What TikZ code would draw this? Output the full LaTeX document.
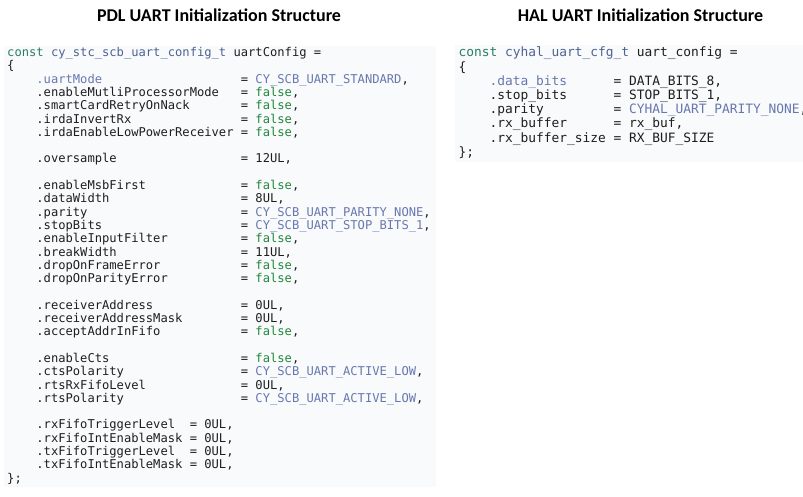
\documentclass[tikz,border=0pt]{standalone}
\usepackage{fontspec}
\usepackage{xcolor}
\usepackage{array}
\setsansfont{Carlito}
\newfontfamily\codefont{DejaVu Sans Mono}
\definecolor{panelbg}{HTML}{F8FAFC}
\definecolor{kwcol}{HTML}{2A7F62}
\definecolor{tycol}{HTML}{4E6394}
\definecolor{encol}{HTML}{6878AE}
\definecolor{facol}{HTML}{22883C}
\definecolor{codetext}{HTML}{1E1E1E}
\newcommand\kw[1]{\textcolor{kwcol}{#1}}
\newcommand\ty[1]{\textcolor{tycol}{#1}}
\newcommand\en[1]{\textcolor{encol}{#1}}
\newcommand\fa{\textcolor{facol}{false}}
\newcommand\ind{\hspace{2.408em}}
\newcommand\gap{\hspace{0.602em}}
\tikzset{
	heading/.style={font=\sffamily\bfseries\fontsize{18}{20}\selectfont, anchor=base, inner sep=0pt},
	codebox/.style={fill=panelbg, anchor=north west, align=left, text=codetext,
		execute at begin node={\spaceskip=0pt\xspaceskip=0pt\noindent}}
}

\begin{document}
\begin{tikzpicture}[x=1pt,y=-1pt]
\useasboundingbox (0,0) rectangle (803,497);

\node[heading] (pdltitle) at (219,21.7) {PDL UART Initialization Structure};
\node[heading] (haltitle) at (640.5,21.7) {HAL UART Initialization Structure};

\node[codebox, text width=426pt, inner xsep=3pt, inner ysep=1pt,
	font=\codefont\fontsize{12.13}{13.3}\selectfont] (pdlcode) at (4,46) {%
\begin{tabular}{@{\ind}l@{\gap}l@{}}
\multicolumn{2}{@{}l@{}}{\kw{const} \ty{cy\_stc\_scb\_uart\_config\_t} uartConfig =}\\
\multicolumn{2}{@{}l@{}}{\{}\\
\en{.uartMode} & = \en{CY\_SCB\_UART\_STANDARD},\\
.enableMutliProcessorMode & = \fa,\\
.smartCardRetryOnNack & = \fa,\\
.irdaInvertRx & = \fa,\\
.irdaEnableLowPowerReceiver & = \fa,\\
 & \\
.oversample & = 12UL,\\
 & \\
.enableMsbFirst & = \fa,\\
.dataWidth & = 8UL,\\
.parity & = \en{CY\_SCB\_UART\_PARITY\_NONE},\\
.stopBits & = \en{CY\_SCB\_UART\_STOP\_BITS\_1},\\
.enableInputFilter & = \fa,\\
.breakWidth & = 11UL,\\
.dropOnFrameError & = \fa,\\
.dropOnParityError & = \fa,\\
 & \\
.receiverAddress & = 0UL,\\
.receiverAddressMask & = 0UL,\\
.acceptAddrInFifo & = \fa,\\
 & \\
.enableCts & = \fa,\\
.ctsPolarity & = \en{CY\_SCB\_UART\_ACTIVE\_LOW},\\
.rtsRxFifoLevel & = 0UL,\\
.rtsPolarity & = \en{CY\_SCB\_UART\_ACTIVE\_LOW},\\
 & \\
\multicolumn{2}{@{\ind}l@{}}{.rxFifoTriggerLevel\ \ = 0UL,}\\
\multicolumn{2}{@{\ind}l@{}}{.rxFifoIntEnableMask = 0UL,}\\
\multicolumn{2}{@{\ind}l@{}}{.txFifoTriggerLevel\ \ = 0UL,}\\
\multicolumn{2}{@{\ind}l@{}}{.txFifoIntEnableMask = 0UL,}\\
\multicolumn{2}{@{}l@{}}{\};}
\end{tabular}};

\node[codebox, text width=341pt, inner xsep=3.5pt, inner ysep=1.7pt,
	font=\codefont\fontsize{12.87}{14.2}\selectfont] (halcode) at (455,45) {%
\begin{tabular}{@{\ind}l@{\gap}l@{}}
\multicolumn{2}{@{}l@{}}{\kw{const} \ty{cyhal\_uart\_cfg\_t} uart\_config =}\\
\multicolumn{2}{@{}l@{}}{\{}\\
\en{.data\_bits} & = DATA\_BITS\_8,\\
.stop\_bits & = STOP\_BITS\_1,\\
.parity & = \en{CYHAL\_UART\_PARITY\_NONE},\\
.rx\_buffer & = rx\_buf,\\
.rx\_buffer\_size & = RX\_BUF\_SIZE\\
\multicolumn{2}{@{}l@{}}{\};}
\end{tabular}};
\end{tikzpicture}
\end{document}
